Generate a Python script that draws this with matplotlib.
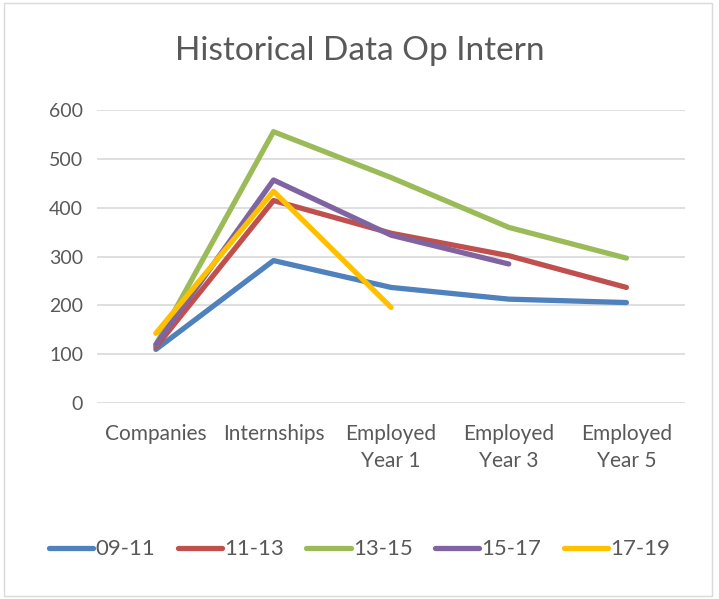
import numpy as np
import matplotlib.pyplot as plt
from matplotlib.patches import Rectangle

plt.rcParams['font.family'] = ['Lato', 'DejaVu Sans']

categories = ['Companies', 'Internships', 'Employed\nYear 1', 'Employed\nYear 3', 'Employed\nYear 5']
s0911 = [110, 292, 237, 213, 206]
s1113 = [115, 415, 348, 302, 237]
s1315 = [120, 556, 462, 360, 297]
s1517 = [120, 457, 344, 285]
s1719 = [143, 434, 196]

series = [('09-11', s0911, '#4f81bd'),
          ('11-13', s1113, '#c0504d'),
          ('13-15', s1315, '#9bbb59'),
          ('15-17', s1517, '#8064a2'),
          ('17-19', s1719, '#ffc000')]

fig = plt.figure(figsize=(7.19, 5.99), dpi=100)
ax = fig.add_axes([0.135, 0.327, 0.818, 0.489])

x = np.arange(len(categories))
for name, vals, col in series:
    ax.plot(x[:len(vals)], vals, color=col, lw=3.8, label=name, solid_capstyle='round', solid_joinstyle='round')

ax.set_ylim(0, 600)
ax.set_xlim(-0.5, len(categories) - 0.5)
ax.set_yticks(range(0, 601, 100))
ax.set_xticks(x)
ax.set_xticklabels(categories, linespacing=1.45)
ax.grid(axis='y', color='#d9d9d9', lw=1.2)
ax.set_axisbelow(True)
for s in ax.spines.values():
    s.set_visible(False)
ax.tick_params(axis='x', length=0, labelsize=15, colors='#595959', pad=15)
ax.tick_params(axis='y', length=0, labelsize=14, colors='#595959', pad=10)

fig.text(0.5, 0.915, 'Historical Data Op Intern', ha='center', va='center', fontsize=24, color='#595959')

fig.legend(loc='center', bbox_to_anchor=(0.5, 0.083), ncol=5, frameon=False,
           fontsize=16, handlelength=2.0, handletextpad=0.1, columnspacing=1.0,
           labelcolor='#595959')

fig.patches.append(Rectangle((0.005, 0.005), 0.985, 0.99, transform=fig.transFigure,
                             fill=False, edgecolor='#d9d9d9', lw=1))

fig.savefig('out.png', dpi=100)
